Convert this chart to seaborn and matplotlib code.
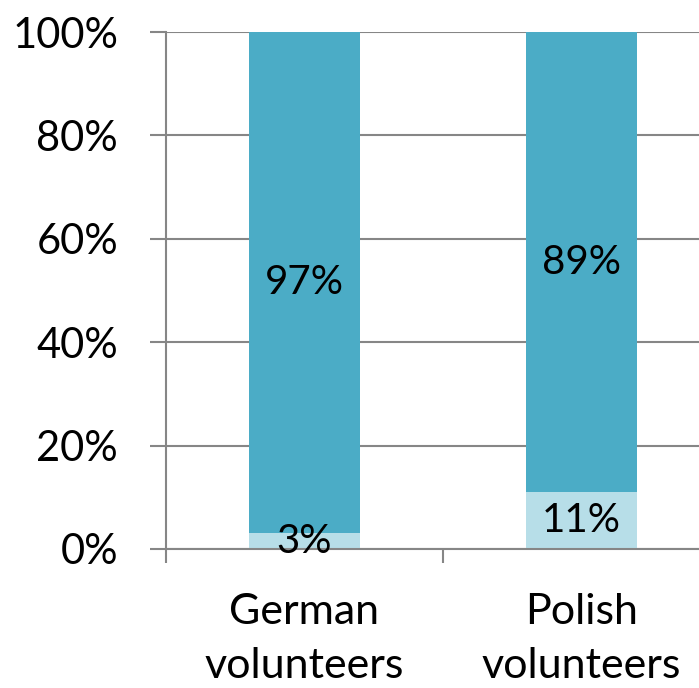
import matplotlib
matplotlib.use("Agg")
import matplotlib.pyplot as plt
import seaborn as sns
import pandas as pd

categories = ["German\nvolunteers", "Polish\nvolunteers"]
low_values = [3, 11]
high_values = [97, 89]
low_labels = ["3%", "11%"]
high_labels = ["97%", "89%"]
yticks = [0, 20, 40, 60, 80, 100]
ytick_labels = ["0%", "20%", "40%", "60%", "80%", "100%"]

sns.set_theme(style="white")
plt.rcParams['font.family'] = ['Lato', 'DejaVu Sans']

df = pd.DataFrame({
    "cat": categories,
    "low": low_values,
    "high": high_values,
})
df["total"] = df["low"] + df["high"]

fig = plt.figure(figsize=(6.99, 6.88), dpi=100)
ax = fig.add_axes([166/699, (688-549)/688, 1 - 166/699, (549-32)/688])

dark = "#4BACC6"
light = "#B7DEE8"
grid = "#868686"

sns.barplot(data=df, x="cat", y="total", color=dark, width=0.4, ax=ax,
            saturation=1, linewidth=0)
sns.barplot(data=df, x="cat", y="low", color=light, width=0.4, ax=ax,
            saturation=1, linewidth=0)

for i in range(len(categories)):
    lo = low_values[i]
    hi = high_values[i]
    ax.text(i, lo / 2, low_labels[i], ha="center", va="center",
            fontsize=29, color="black")
    ax.text(i, lo + hi / 2, high_labels[i], ha="center", va="center",
            fontsize=29, color="black")

ax.set_yticks(yticks)
ax.set_yticklabels(ytick_labels, fontsize=30)
ax.set_xticks(range(len(categories)))
ax.set_xticklabels(categories, fontsize=31, linespacing=1.5)
ax.set_xticks([-0.5, 0.5, 1.5], minor=True)
ax.set_xlabel("")
ax.set_ylabel("")
ax.set_ylim(0, 100)
ax.set_xlim(-0.5, 1.424)

ax.set_axisbelow(True)
ax.yaxis.grid(True, color=grid, linewidth=1.5)
ax.xaxis.grid(False)

for s in ["top", "right"]:
    ax.spines[s].set_visible(False)
for s in ["left", "bottom"]:
    ax.spines[s].set_color(grid)
    ax.spines[s].set_linewidth(1.5)

ax.tick_params(axis="y", which="major", direction="out", length=11.5,
               width=1.5, color=grid, pad=23, left=True, labelcolor="black")
ax.tick_params(axis="x", which="major", length=0, pad=32, labelcolor="black")
ax.tick_params(axis="x", which="minor", direction="out", length=10,
               width=1.5, color=grid, bottom=True)

fig.savefig("out.png", dpi=100)
